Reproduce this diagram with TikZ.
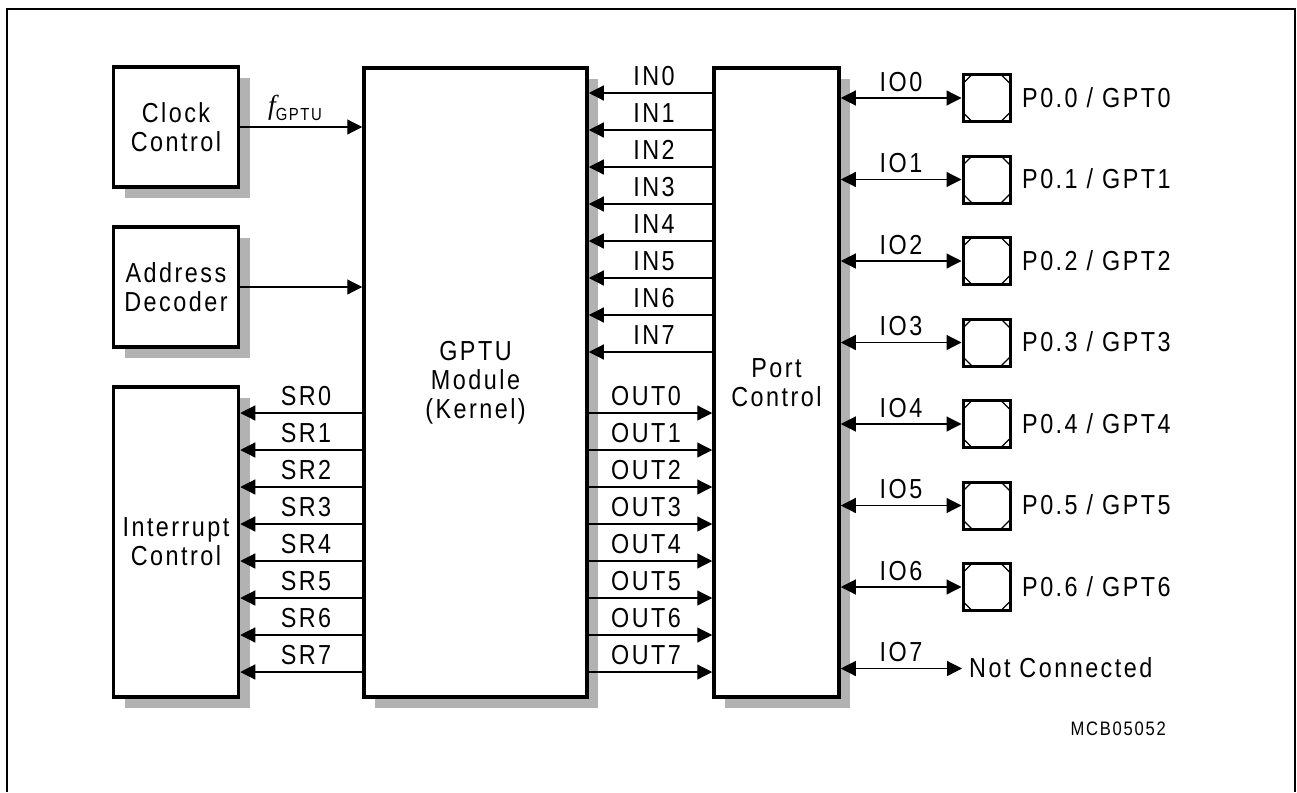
\documentclass[tikz,border=0pt]{standalone}
\usepackage{fontspec}
\setmainfont{Liberation Sans}[FakeStretch=0.85,LetterSpace=9]
\newfontfamily\fserif{Liberation Serif}
\usetikzlibrary{arrows.meta,shadows,calc}
\begin{document}
\begin{tikzpicture}[x=1pt,y=-1pt,
  font=\fontsize{27.5}{29}\selectfont,
  box/.style={draw, line width=3.5pt, fill=white, inner sep=0pt, align=center,
    drop shadow={shadow xshift=11pt, shadow yshift=-11pt, opacity=1, fill=black!30}},
  sig/.style={line width=1.2pt, -{Triangle[length=15pt,width=15pt]}},
  bsig/.style={line width=1.2pt, {Triangle[length=15pt,width=15pt]}-{Triangle[length=15pt,width=15pt]}},
  lab/.style={anchor=base, inner sep=0pt},
  pinbox/.style={draw, line width=3pt, minimum width=47pt, minimum height=47pt, inner sep=0pt},
]
\useasboundingbox (0,0) rectangle (1297,792);
\draw[line width=2pt] (7,792) -- (7,9) -- (1295,9) -- (1295,792);

\node[box, minimum width=125pt, minimum height=120pt] (clk) at (176,127) {Clock\\Control};
\node[box, minimum width=125pt, minimum height=120pt] (adr) at (176,287) {Address\\Decoder};
\node[box, minimum width=125pt, minimum height=310pt] (irq) at (176,542) {Interrupt\\Control};
\node[box, minimum width=223pt, minimum height=629pt] (gptu) at (475.5,382.5) {GPTU\\Module\\(Kernel)};
\node[box, minimum width=125pt, minimum height=629pt] (port) at (776.5,382.5) {Port\\Control};

% clock and address
\draw[sig] (clk.east) -- (gptu.west |- clk.east);
\node[anchor=base west, inner sep=0pt] (flab) at (268,114) {{\fserif\itshape f}\raisebox{-6pt}{\fontsize{17.5}{18}\selectfont GPTU}};
\draw[sig] (adr.east) -- (gptu.west |- adr.east);

% IN lines
\foreach \i in {0,...,7} {
  \pgfmathsetmacro\yy{93+37*\i}
  \coordinate (t) at (0,\yy);
  \draw[sig] (port.west |- t) -- (gptu.east |- t);
  \node[lab] at (654,\yy-7.5) {IN\i};
}
% OUT and SR lines
\foreach \i in {0,...,7} {
  \pgfmathsetmacro\yy{413+37*\i}
  \coordinate (t) at (0,\yy);
  \draw[sig] (gptu.east |- t) -- (port.west |- t);
  \node[lab] at (646,\yy-7.5) {OUT\i};
  \draw[sig] (gptu.west |- t) -- (irq.east |- t);
  \node[lab] at (306,\yy-7.5) {SR\i};
}
% IO lines and pins
\foreach \i in {0,...,6} {
  \pgfmathsetmacro\yy{98+81.5*\i}
  \node[pinbox] (pin\i) at (986.5,\yy) {};
  \draw[line width=1.3pt] ($(pin\i.north west)+(1.5,10.5)$) -- ($(pin\i.north west)+(10.5,1.5)$);
  \draw[line width=1.3pt] ($(pin\i.north east)+(-1.5,10.5)$) -- ($(pin\i.north east)+(-10.5,1.5)$);
  \draw[line width=1.3pt] ($(pin\i.south west)+(1.5,-10.5)$) -- ($(pin\i.south west)+(10.5,-1.5)$);
  \draw[line width=1.3pt] ($(pin\i.south east)+(-1.5,-10.5)$) -- ($(pin\i.south east)+(-10.5,-1.5)$);
  \draw[bsig] (port.east |- pin\i.west) -- (pin\i.west);
  \node[lab] at (901,\yy-7) {IO\i};
  \node[anchor=base west, inner sep=0pt] at (1022,\yy+9) {P0.\i\ / GPT\i};
}
\coordinate (nc) at (962,668.5);
\draw[bsig] (port.east |- nc) -- (nc);
\node[lab] at (901,661.5) {IO7};
\node[anchor=base west, inner sep=0pt] (nctext) at (969,677.5) {Not Connected};

\node[anchor=base east, inner sep=0pt, font=\fontsize{19.5}{21}\selectfont] (mcb) at (1166,735) {MCB05052};
\end{tikzpicture}
\end{document}
